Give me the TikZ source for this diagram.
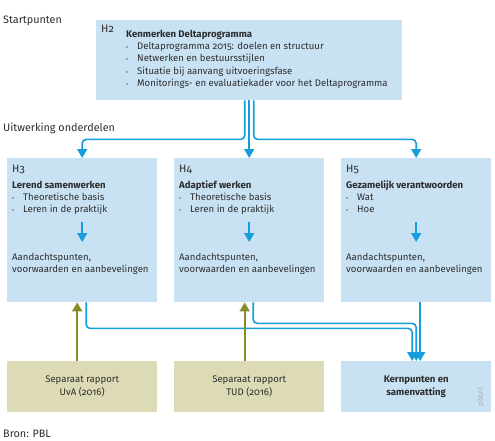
\documentclass[tikz,border=0pt]{standalone}
\usepackage{fontspec}
\setmainfont{Fira Sans}[Numbers=OldStyle]
\usetikzlibrary{arrows.meta}

\definecolor{pblblue}{RGB}{200,226,244}
\definecolor{pblcyan}{RGB}{22,158,220}
\definecolor{pblolive}{RGB}{221,219,182}
\definecolor{pblgreen}{RGB}{134,140,40}
\definecolor{pbltext}{RGB}{45,45,45}

\newcommand{\bul}{\makebox[11pt][l]{\fontsize{6}{6}\selectfont\textbullet}}

\tikzset{
  lbl/.style={inner sep=0pt, anchor=base west, text=pbltext, font=\fontsize{9.6}{12}\selectfont},
  kop/.style={lbl, font=\fontsize{9.6}{12}\selectfont\bfseries},
  grootlbl/.style={lbl, font=\fontsize{10.8}{13}\selectfont},
  bluebox/.style={fill=pblblue, inner sep=0pt, anchor=north west, minimum width=150pt, minimum height=144pt},
  olivebox/.style={fill=pblolive, inner sep=0pt, anchor=north west, minimum width=150pt, minimum height=51pt,
    align=center, text=pbltext, font=\fontsize{9.6}{13}\selectfont},
  bluearrow/.style={draw=pblcyan, line width=1.6pt, rounded corners=4pt, -{Triangle[width=10pt,length=9pt]}},
  olivearrow/.style={draw=pblgreen, line width=1.7pt, -{Triangle[width=10pt,length=9pt]}}
}

\begin{document}
\begin{tikzpicture}[x=1pt,y=-1pt]
\useasboundingbox (0,0) rectangle (495,440);

% kopjes
\node[grootlbl] (start) at (3,23) {Startpunten};
\node[grootlbl] (uitw) at (3,131) {Uitwerking onderdelen};
\node[grootlbl] (bron) at (3,437) {Bron: PBL};

% H2
\node[bluebox, minimum width=306pt, minimum height=80pt] (h2) at (96,20) {};
\node[grootlbl] (h2-nr) at (101,32) {H2};
\node[kop] (h2-titel) at (126,37) {Kenmerken Deltaprogramma};
\foreach \t [count=\i] in {Deltaprogramma 2015: doelen en structuur,
    Netwerken en bestuursstijlen, Situatie bij aanvang uitvoeringsfase,
    Monitorings- en evaluatiekader voor het Deltaprogramma}
  \node[lbl] (h2-b\i) at (126,37+12.4*\i) {\bul\t};

% H3 t/m H5
\foreach \x/\n/\nr/\titel/\ba/\bb in {7/h3/H3/Lerend samenwerken/Theoretische basis/Leren in de praktijk,
    174/h4/H4/Adaptief werken/Theoretische basis/Leren in de praktijk,
    341/h5/H5/Gezamelijk verantwoorden/Wat/Hoe}
{
  \node[bluebox] (\n) at (\x,158) {};
  \node[grootlbl] (\n-nr) at (\x+5,172) {\nr};
  \node[kop] (\n-titel) at (\x+5,188) {\titel};
  \node[lbl] (\n-ba) at (\x+5,200) {\bul\ba};
  \node[lbl] (\n-bb) at (\x+5,212) {\bul\bb};
  \node[lbl] (\n-aan1) at (\x+5,260) {Aandachtspunten,};
  \node[lbl] (\n-aan2) at (\x+5,272) {voorwaarden en aanbevelingen};
  \draw[bluearrow, shorten <=10pt, shorten >=18pt] (\n.center |- \n-bb.base) -- (\n.center |- \n-aan1.base);
}

% onderste rij
\node[olivebox] (uva) at (7,361) {Separaat rapport\\UvA (2016)};
\node[olivebox] (tud) at (174,361) {Separaat rapport\\TUD (2016)};
\node[olivebox, fill=pblblue, font=\fontsize{9.6}{13}\selectfont\bfseries] (kern) at (341,361) {Kernpunten en\\samenvatting};
\node[rotate=90, inner sep=0pt, text=black!35, font=\fontsize{7}{7}\selectfont] (pblnl) at (481,397) {pbl.nl};

% pijlen vanuit H2
\path (h2.south) ++(0,39) coordinate (split);
\draw[bluearrow] ([xshift=-4.5pt]h2.south) -- ([xshift=-4.5pt]split) -| (h3.north);
\draw[bluearrow] (h2.south) -- (h4.north);
\draw[bluearrow] ([xshift=4.5pt]h2.south) -- ([xshift=4.5pt]split) -| (h5.north);

% pijlen naar kernpunten
\draw[bluearrow] ([xshift=4pt]h3.south) -- ++(0,26) -| ([xshift=-4pt]kern.north);
\draw[bluearrow] ([xshift=4pt]h4.south) -- ++(0,21) -| (kern.north);
\draw[bluearrow] ([xshift=4pt]h5.south) -- ([xshift=4pt]kern.north);

% separate rapporten
\draw[olivearrow] ([xshift=-5pt]uva.north) -- ([xshift=-5pt]h3.south);
\draw[olivearrow] ([xshift=-4.5pt]tud.north) -- ([xshift=-4.5pt]h4.south);
\end{tikzpicture}
\end{document}
